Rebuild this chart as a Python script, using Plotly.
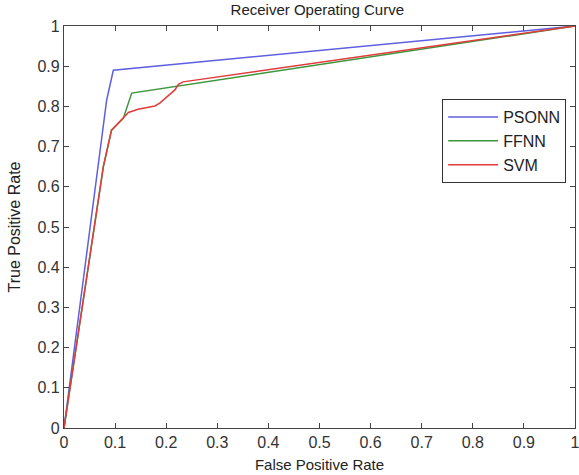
import plotly.graph_objects as go

# Data
psonn_fpr = [0, 0.077, 0.0835, 0.0965, 1.0]
psonn_tpr = [0, 0.741, 0.816, 0.890, 1.0]

ffnn_fpr = [0, 0.077, 0.093, 0.106, 0.116, 0.1325, 1.0]
ffnn_tpr = [0, 0.650, 0.741, 0.758, 0.770, 0.833, 1.0]

svm_fpr = [0, 0.077, 0.093, 0.106, 0.116, 0.126, 0.145, 0.178, 0.188, 0.201, 0.217, 0.224, 0.233, 1.0]
svm_tpr = [0, 0.650, 0.741, 0.758, 0.770, 0.785, 0.793, 0.801, 0.809, 0.824, 0.841, 0.855, 0.861, 1.0]

tick_vals = [0, 0.1, 0.2, 0.3, 0.4, 0.5, 0.6, 0.7, 0.8, 0.9, 1]
tick_text = ["0", "0.1", "0.2", "0.3", "0.4", "0.5", "0.6", "0.7", "0.8", "0.9", "1"]

font = "Liberation Sans, Arial, sans-serif"

fig = go.Figure()
fig.add_trace(go.Scatter(x=psonn_fpr, y=psonn_tpr, mode="lines", name="PSONN",
                         line=dict(color="rgb(95,95,225)", width=1.5)))
fig.add_trace(go.Scatter(x=ffnn_fpr, y=ffnn_tpr, mode="lines", name="FFNN",
                         line=dict(color="rgb(60,150,60)", width=1.5)))
fig.add_trace(go.Scatter(x=svm_fpr, y=svm_tpr, mode="lines", name="SVM",
                         line=dict(color="rgb(225,60,60)", width=1.5)))

axis_common = dict(
    range=[0, 1], tickvals=tick_vals, ticktext=tick_text,
    ticks="inside", ticklen=5, tickcolor="#444", mirror="ticks",
    showline=True, linecolor="#444", linewidth=1.2,
    showgrid=False, zeroline=False, automargin=False,
    ticklabeloverflow="allow",
    tickfont=dict(family=font, size=16, color="#333"),
)

fig.update_layout(
    width=579, height=475,
    margin=dict(l=64, r=4, t=26, b=47),
    paper_bgcolor="white", plot_bgcolor="white",
    title=dict(text="Receiver Operating Curve", x=0.548, xanchor="center", y=0.99, yanchor="top",
               font=dict(family=font, size=15, color="#222")),
    xaxis=dict(**axis_common, title=dict(text="False Positive Rate", standoff=9,
                                         font=dict(family=font, size=15, color="#222"))),
    yaxis=dict(**axis_common, title=dict(text="True Positive Rate", standoff=12,
                                         font=dict(family=font, size=16, color="#222"))),
    legend=dict(x=0.740, y=0.818, xanchor="left", yanchor="top",
                bgcolor="white", bordercolor="#333", borderwidth=1,
                font=dict(family=font, size=16, color="#222"),
                tracegroupgap=0, itemwidth=50),
    showlegend=True,
)

fig.write_html("out.html", config={"displayModeBar": False},
               post_script="document.body.style.margin='0';document.body.style.overflow='hidden';")
